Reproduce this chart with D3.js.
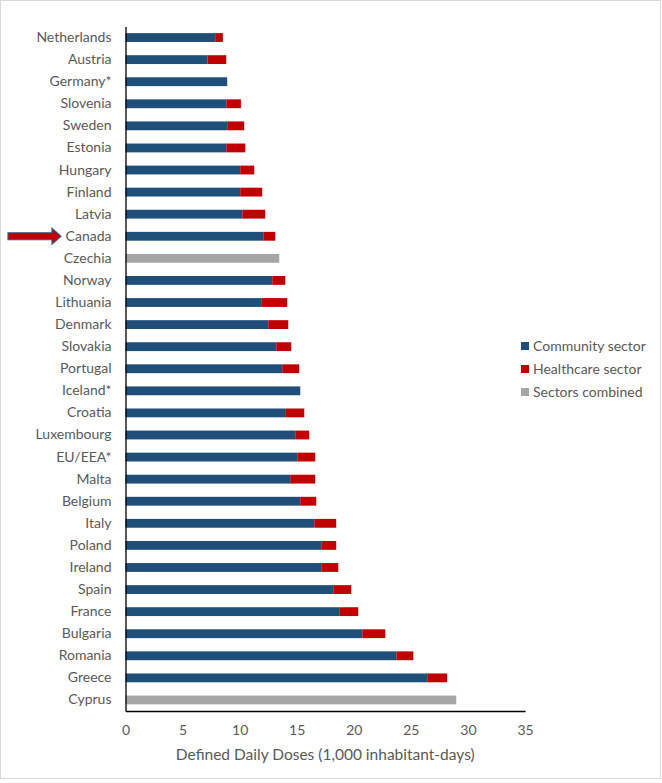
<!DOCTYPE html>
<html><head><meta charset="utf-8">
<script src="https://cdnjs.cloudflare.com/ajax/libs/d3/7.8.5/d3.min.js"></script>
<style>body{margin:0;background:#fff}svg{display:block;font-family:Lato,"Open Sans",sans-serif}</style>
</head><body><svg id="c" width="662" height="783"></svg>
<script>
const categories = ["Netherlands","Austria","Germany*","Slovenia","Sweden","Estonia","Hungary","Finland","Latvia","Canada","Czechia","Norway","Lithuania","Denmark","Slovakia","Portugal","Iceland*","Croatia","Luxembourg","EU/EEA*","Malta","Belgium","Italy","Poland","Ireland","Spain","France","Bulgaria","Romania","Greece","Cyprus"];
const community = [7.86,7.19,8.91,8.83,8.91,8.83,10.05,10.05,10.23,12.07,0,12.86,11.89,12.51,13.21,13.73,15.31,13.99,14.87,15.05,14.43,15.31,16.54,17.15,17.15,18.20,18.73,20.75,23.73,26.43,0];
const healthcare = [0.67,1.64,0,1.28,1.49,1.66,1.23,1.93,2.01,1.05,0,1.14,2.28,1.75,1.31,1.49,0,1.67,1.22,1.57,2.19,1.40,1.92,1.31,1.49,1.58,1.66,2.01,1.49,1.75,0];
const combined = [0,0,0,0,0,0,0,0,0,0,13.47,0,0,0,0,0,0,0,0,0,0,0,0,0,0,0,0,0,0,0,28.98];
const xTicks = [0,5,10,15,20,25,30,35];
const seriesNames = ["Community sector","Healthcare sector","Sectors combined"];
const colors = ["#1f4e79","#c00000","#a5a5a5"];

const svg = d3.select("#c");
svg.append("rect").attr("x",0.5).attr("y",0.5).attr("width",660).attr("height",778).attr("fill","#fff").attr("stroke","#d9d9d9");

const L=125.5, R=525, T=26.5, B=711;
const x = d3.scaleLinear().domain([0,35]).range([L,R]);
const y = d3.scaleBand().domain(categories).range([T,B]).paddingInner(0.6).paddingOuter(0.3);

const g = svg.append("g");
categories.forEach((c,i)=>{
  const yy = y(c), h = y.bandwidth();
  if (combined[i]>0) g.append("rect").attr("x",x(0)).attr("y",yy).attr("width",x(combined[i])-x(0)).attr("height",h).attr("fill",colors[2]);
  if (community[i]>0) g.append("rect").attr("x",x(0)).attr("y",yy).attr("width",x(community[i])-x(0)).attr("height",h).attr("fill",colors[0]);
  if (healthcare[i]>0) g.append("rect").attr("x",x(community[i])).attr("y",yy).attr("width",x(community[i]+healthcare[i])-x(community[i])).attr("height",h).attr("fill",colors[1]);
});

// x axis
const xa = svg.append("g").attr("transform",`translate(0,${B})`).call(d3.axisBottom(x).tickValues(xTicks).tickSize(0).tickPadding(14));
xa.select(".domain").attr("stroke","#000").attr("stroke-width",1.3);
xa.selectAll("text").attr("fill","#595959").attr("font-size","14px").attr("font-family","Lato,sans-serif");
// y axis
const ya = svg.append("g").attr("transform",`translate(${L},0)`).call(d3.axisLeft(y).tickSize(0).tickPadding(14));
ya.select(".domain").attr("stroke","#000").attr("stroke-width",1.3);
ya.selectAll("text").attr("fill","#595959").attr("font-size","14px").attr("font-family","Lato,sans-serif");

svg.append("text").attr("x",(L+R)/2).attr("y",760).attr("text-anchor","middle").attr("fill","#595959").attr("font-size","15.5px").text("Defined Daily Doses (1,000 inhabitant-days)");

// legend
seriesNames.forEach((s,i)=>{
  const ly = 346 + i*23;
  svg.append("rect").attr("x",521).attr("y",ly-4).attr("width",8).attr("height",8).attr("fill",colors[i]);
  svg.append("text").attr("x",533).attr("y",ly+5).attr("fill","#595959").attr("font-size","14px").text(s);
});

// arrow pointing at Canada
const ay = y("Canada")+y.bandwidth()/2;
svg.append("path").attr("d",`M8,${ay-3.5} L52,${ay-3.5} L52,${ay-8} L61,${ay} L52,${ay+8} L52,${ay+3.5} L8,${ay+3.5} Z`).attr("fill","#c00000").attr("stroke","#3b5a87").attr("stroke-width",1.2);
</script></body></html>
